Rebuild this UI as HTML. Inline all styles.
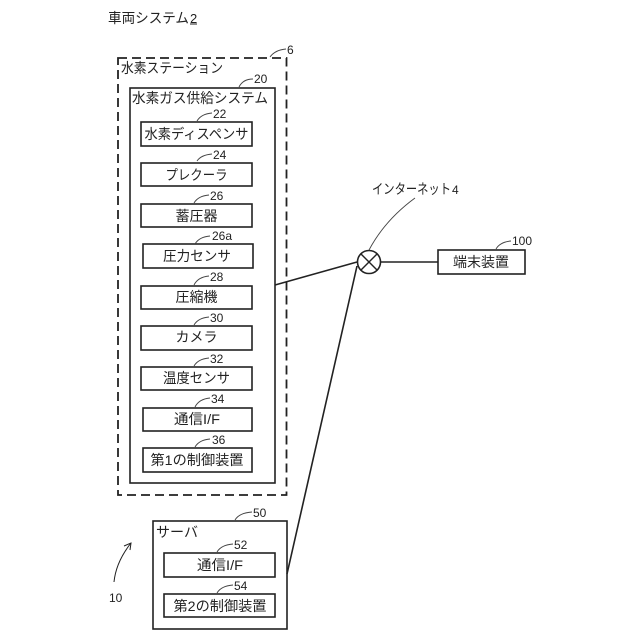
<!DOCTYPE html>
<html><head><meta charset="utf-8">
<style>
html,body{margin:0;padding:0;background:#fff;width:640px;height:640px;overflow:hidden}
svg{display:block}
text{font-family:"Liberation Sans","Noto Sans CJK JP",sans-serif;fill:#222}
.l{font-size:14px}
.n{font-size:12px}
.c{text-anchor:middle}
rect{fill:#fff;stroke:#222;stroke-width:1.6}
path,line,circle.o{fill:none;stroke:#222}
.t{stroke-width:.9;stroke:#444}
</style></head><body>
<svg width="640" height="640" viewBox="0 0 640 640" xmlns="http://www.w3.org/2000/svg">
<text x="108" y="23" class="l" textLength="81" lengthAdjust="spacingAndGlyphs">車両システム</text>
<text x="190" y="23" class="l" style="font-size:13px">2</text>
<line x1="190" y1="24" x2="197" y2="24" stroke-width="1"/>

<rect x="118" y="58" width="168.500" height="437" style="stroke-dasharray:9 5;stroke-width:1.8"/>
<text x="121" y="73" class="l" textLength="102" lengthAdjust="spacingAndGlyphs">水素ステーション</text>
<path class="t" d="M270 57Q275 50 286 49"/><text x="287" y="54" class="n">6</text>

<rect x="130" y="88" width="145" height="395"/>
<text x="132" y="103" class="l" textLength="136" lengthAdjust="spacingAndGlyphs">水素ガス供給システム</text>
<path class="t" d="M239 87Q243 79 253 79"/><text x="254" y="83" class="n">20</text>

<rect x="141" y="122" width="111" height="24"/>
<text x="196.500" y="139" class="l c" textLength="104" lengthAdjust="spacingAndGlyphs">水素ディスペンサ</text>
<path class="t" d="M197 121Q201 114 212 113"/><text x="213" y="118" class="n">22</text>

<rect x="141" y="163" width="111" height="23"/>
<text x="196.500" y="180" class="l c" textLength="62" lengthAdjust="spacingAndGlyphs">プレクーラ</text>
<path class="t" d="M197 161Q201 155 212 154"/><text x="213" y="159" class="n">24</text>

<rect x="141" y="204" width="111" height="23"/>
<text x="196.500" y="221" class="l c">蓄圧器</text>
<path class="t" d="M194 203Q198 196 209 195"/><text x="210" y="200" class="n">26</text>

<rect x="143" y="244" width="110" height="24"/>
<text x="197" y="261" class="l c" textLength="68" lengthAdjust="spacingAndGlyphs">圧力センサ</text>
<path class="t" d="M195 244Q199 237 210 236"/><text x="212" y="240" class="n">26a</text>

<rect x="141" y="286" width="111" height="23"/>
<text x="196.500" y="302" class="l c">圧縮機</text>
<path class="t" d="M194 285Q198 277 209 276"/><text x="210" y="281" class="n">28</text>

<rect x="141" y="326" width="111" height="24"/>
<text x="196.500" y="342" class="l c">カメラ</text>
<path class="t" d="M194 325Q198 318 209 317"/><text x="210" y="322" class="n">30</text>

<rect x="141" y="367" width="111" height="23"/>
<text x="196.500" y="383" class="l c" textLength="67" lengthAdjust="spacingAndGlyphs">温度センサ</text>
<path class="t" d="M194 366Q198 359 209 358"/><text x="210" y="363" class="n">32</text>

<rect x="143" y="408" width="109" height="23"/>
<text x="197" y="424" class="l c" textLength="46" lengthAdjust="spacingAndGlyphs">通信I/F</text>
<path class="t" d="M195 407Q199 399 210 398"/><text x="211" y="403" class="n">34</text>

<rect x="143" y="448" width="109" height="24"/>
<text x="197" y="465" class="l c" textLength="93" lengthAdjust="spacingAndGlyphs">第1の制御装置</text>
<path class="t" d="M195 447Q199 440 210 439"/><text x="212" y="444" class="n">36</text>

<rect x="153" y="521" width="134" height="108"/>
<text x="156" y="537" class="l" textLength="42" lengthAdjust="spacingAndGlyphs">サーバ</text>
<path class="t" d="M235 520Q239 513 252 512"/><text x="253" y="517" class="n">50</text>

<rect x="164" y="553" width="111" height="24"/>
<text x="220" y="570" class="l c" textLength="46" lengthAdjust="spacingAndGlyphs">通信I/F</text>
<path class="t" d="M217 552Q221 545 233 544"/><text x="234" y="549" class="n">52</text>

<rect x="164" y="594" width="111" height="23"/>
<text x="220" y="611" class="l c" textLength="93" lengthAdjust="spacingAndGlyphs">第2の制御装置</text>
<path class="t" d="M217 593Q221 586 233 585"/><text x="234" y="590" class="n">54</text>

<line x1="275" y1="285" x2="357" y2="262" stroke-width="1.6"/>
<line x1="287" y1="574" x2="357" y2="266" stroke-width="1.6"/>
<circle class="o" cx="369" cy="262" r="11.500" stroke-width="1.6"/>
<line x1="361" y1="254" x2="377" y2="270" stroke-width="1.4"/>
<line x1="377" y1="254" x2="361" y2="270" stroke-width="1.4"/>
<line x1="381" y1="262" x2="438" y2="262" stroke-width="1.6"/>

<rect x="438" y="250" width="87" height="24"/>
<text x="481" y="267" class="l c">端末装置</text>
<path class="t" d="M496 249Q500 242 511 241"/><text x="512" y="245" class="n">100</text>

<text x="372" y="194" class="l" textLength="79" lengthAdjust="spacingAndGlyphs">インターネット</text>
<text x="452" y="194" class="n">4</text>
<path class="t" d="M369 250Q385 220 415 198"/>

<path d="M114 582Q116 562 131 543" stroke-width="1"/>
<path d="M124 546L131 543L130 550" stroke-width="1"/>
<text x="109" y="602" class="n">10</text>
</svg>
</body></html>
